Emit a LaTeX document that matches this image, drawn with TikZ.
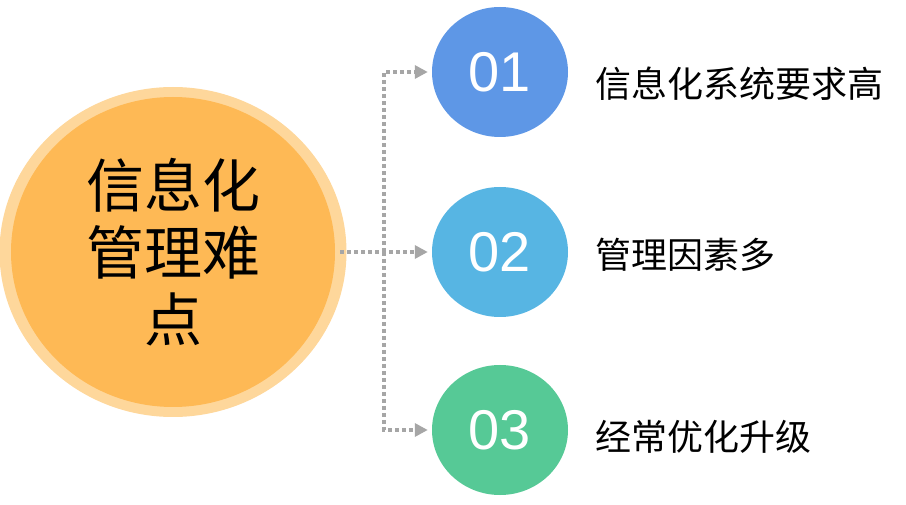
\documentclass[tikz,border=0pt]{standalone}
\usepackage{fontspec}
\setmainfont{Noto Sans CJK SC}
\newfontfamily\numfont{Liberation Sans}
\usetikzlibrary{positioning}
\usetikzlibrary{calc}
\usetikzlibrary{arrows.meta,shapes.geometric}

\definecolor{ringorange}{HTML}{FED79B}
\definecolor{coreorange}{HTML}{FEB955}
\definecolor{blueone}{HTML}{5E97E6}
\definecolor{bluetwo}{HTML}{57B5E3}
\definecolor{greenthree}{HTML}{56C996}
\definecolor{linkgray}{HTML}{A6A6A6}

\tikzset{
  numcircle/.style={ellipse, minimum width=136pt, minimum height=130pt, inner sep=0pt,
    text=white, font=\numfont\fontsize{56pt}{56pt}\selectfont},
  itemlabel/.style={anchor=west, inner sep=0pt, font=\fontsize{36pt}{36pt}\selectfont},
  link/.style={draw=linkgray, line width=3.5pt, dash pattern=on 4pt off 3pt,
    -{Triangle[length=13pt,width=13pt]}},
  elbow/.style={to path={|- (\tikztotarget)}}
}

\begin{document}
\begin{tikzpicture}[x=1pt,y=1pt]
\useasboundingbox (0,0) rectangle (906,504);

\fill[ringorange] (173,252) ellipse (173.5 and 165);
\node[ellipse, fill=coreorange, minimum width=324pt, minimum height=310pt, inner sep=0pt,
  align=center, font=\fontsize{58pt}{67pt}\selectfont](core) at (173,252){信息化\\管理难\\点};

\node[numcircle, fill=blueone](n1) at (500,432){01};
\node[numcircle, fill=bluetwo](n2) at (500,252){02};
\node[numcircle, fill=greenthree](n3) at (500,74){03};

\node[itemlabel](t1) at (595,420){信息化系统要求高};
\node[itemlabel](t2) at (595,249){管理因素多};
\node[itemlabel](t3) at (595,67){经常优化升级};

\coordinate (J) at (384,252);
\coordinate (start) at (340,252);

\path
(start) edge[link, shorten >=4pt] (n2)
(J) edge[link, elbow, shorten >=4pt] (n1)
(J) edge[link, elbow, shorten >=4pt] (n3);
\end{tikzpicture}
\end{document}
